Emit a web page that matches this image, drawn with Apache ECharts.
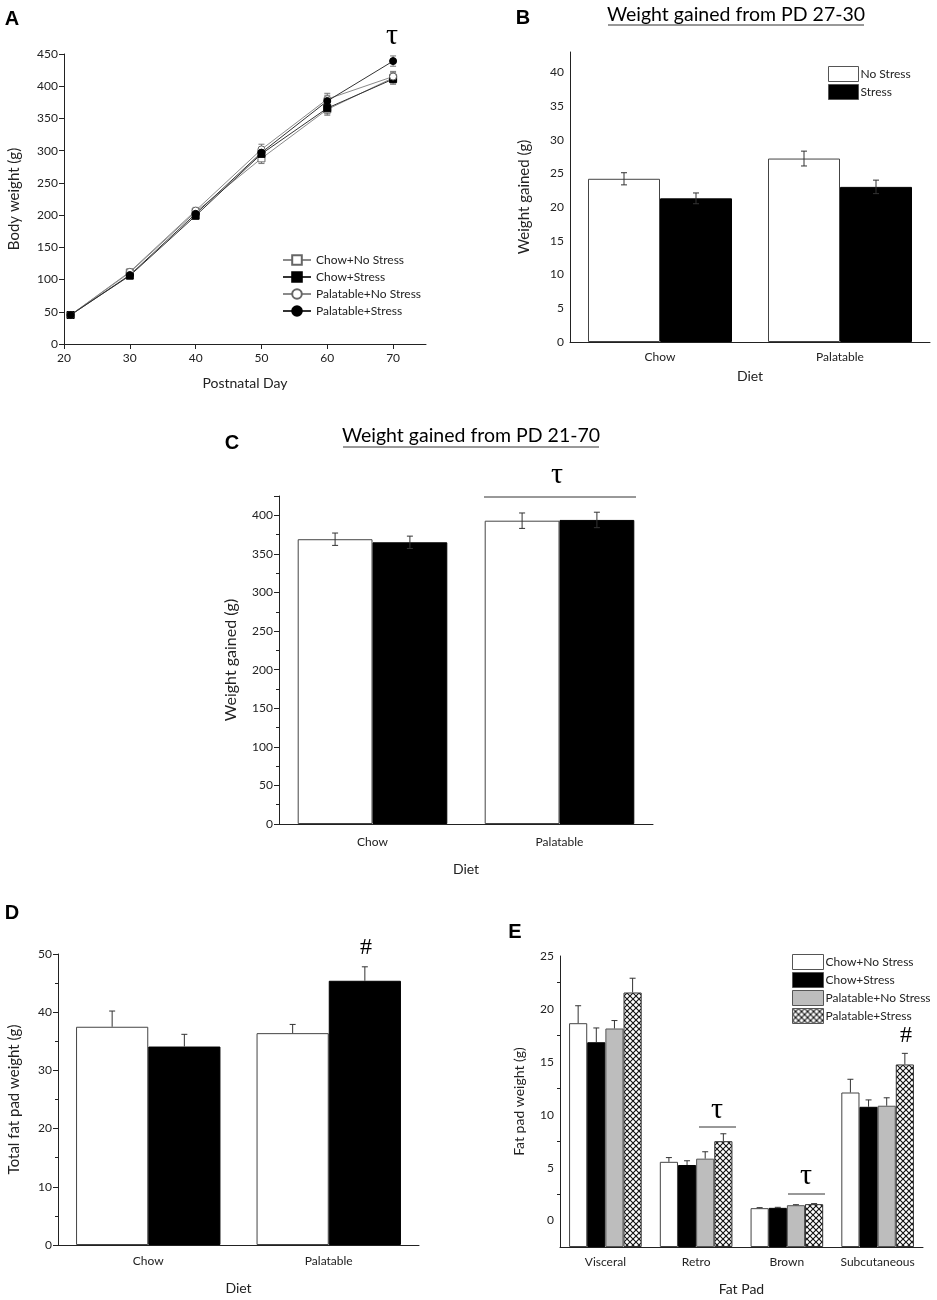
<!DOCTYPE html>
<html>
<head>
<meta charset="utf-8">
<script src="https://cdn.jsdelivr.net/npm/echarts@6/dist/echarts.min.js"></script>
<style>
  html, body { margin: 0; padding: 0; background: #fff; }
  #fig { width: 937px; height: 1300px; }
</style>
</head>
<body>
<div id="fig"></div>
<script>
// panel A - body weight over time
const days = [21, 30, 40, 50, 60, 70];
const chowNoStressBW = [45, 111, 205, 288, 364, 413];
const chowStressBW = [45, 106, 199, 295, 366, 411];
const palNoStressBW = [45, 112, 207, 302, 380, 415];
const palStressBW = [45, 107, 202, 297, 377, 439];
const bwErr = [3, 4, 5, 8, 9, 8];
const bwTicksX = [20, 30, 40, 50, 60, 70];

// panels B-D - two diets
const diets = ['Chow', 'Palatable'];
const gainB_noStress = [24.2, 27.2];
const gainB_noStressErr = [0.9, 1.1];
const gainB_stress = [21.3, 23.0];
const gainB_stressErr = [0.8, 1.0];
const ticksB = [0, 5, 10, 15, 20, 25, 30, 35, 40];

const gainC_noStress = [369, 393];
const gainC_noStressErr = [8, 10];
const gainC_stress = [365, 394];
const gainC_stressErr = [8, 10];
const ticksC = [0, 50, 100, 150, 200, 250, 300, 350, 400];

const fatD_noStress = [37.5, 36.4];
const fatD_noStressErr = [2.7, 1.5];
const fatD_stress = [34.1, 45.4];
const fatD_stressErr = [2.1, 2.4];

// panel E - fat pads
const fatPads = ['Visceral', 'Retro', 'Brown', 'Subcutaneous'];
const padChowNoStress = [18.65, 5.55, 1.17, 12.1];
const padChowNoStressErr = [1.65, 0.4, 0.05, 1.25];
const padChowStress = [16.85, 5.25, 1.2, 10.75];
const padChowStressErr = [1.35, 0.4, 0.05, 0.65];
const padPalNoStress = [18.15, 5.85, 1.45, 10.85];
const padPalNoStressErr = [0.75, 0.65, 0.05, 0.75];
const padPalStress = [21.55, 7.5, 1.55, 14.75];
const padPalStressErr = [1.35, 0.7, 0.05, 1.05];
const ticksE = [0, 5, 10, 15, 20, 25];
const minorTicksE = [2.5, 7.5, 12.5, 17.5, 22.5];

const FONT = 'Lato';
const INK = '#222';
const GAP = 0.2;

// cross hatch fill for palatable+stress
const hatch = document.createElement('canvas');
hatch.width = hatch.height = 6;
const hc = hatch.getContext('2d');
hc.fillStyle = '#fff';
hc.fillRect(0, 0, 6, 6);
hc.strokeStyle = '#111';
hc.lineWidth = 1.1;
hc.beginPath();
hc.moveTo(-1, -1); hc.lineTo(7, 7);
hc.moveTo(7, -1); hc.lineTo(-1, 7);
hc.stroke();
const hatchFill = { image: hatch, repeat: 'repeat' };

const axisLine = { show: true, onZero: false, lineStyle: { color: INK, width: 1 } };
const tickStyle = { lineStyle: { color: INK, width: 1 } };

function catAxis(grid, cats, nameGap, labelMargin, name) {
  return {
    type: 'category', gridIndex: grid, data: cats,
    name: name, nameLocation: 'middle', nameGap: nameGap,
    nameTextStyle: { fontSize: 14, color: INK },
    axisLine: axisLine,
    axisTick: Object.assign({ alignWithLabel: true, length: 5 }, tickStyle),
    axisLabel: { fontSize: 12, color: INK, margin: labelMargin, interval: 0 }
  };
}

function valAxis(grid, opts) {
  return Object.assign({
    type: 'value', gridIndex: grid, position: 'left',
    nameLocation: 'middle', nameRotate: 90,
    nameTextStyle: { fontSize: 15, color: INK },
    axisLine: axisLine,
    axisTick: Object.assign({ show: true, length: 5 }, tickStyle),
    axisLabel: { fontSize: 12, color: INK, margin: 6 },
    splitLine: { show: false }
  }, opts);
}

// error whiskers for grouped bars
function barErrors(idx, vals, errs, slot, nSlots, both, cap) {
  return {
    type: 'custom', xAxisIndex: idx, yAxisIndex: idx, z: 5, silent: true,
    data: vals.map((v, i) => [i, v, errs[i]]),
    renderItem(params, api) {
      const i = api.value(0), v = api.value(1), e = api.value(2);
      const band = api.size([1, 0])[0];
      const groupW = band * (1 - GAP);
      const x = api.coord([i, v])[0] - groupW / 2 + (slot + 0.5) * groupW / nSlots;
      const yTop = api.coord([i, v + e])[1];
      const yBot = api.coord([i, both ? v - e : v])[1];
      const st = { stroke: '#333', lineWidth: 1 };
      const kids = [
        { type: 'line', shape: { x1: x, y1: yTop, x2: x, y2: yBot }, style: st },
        { type: 'line', shape: { x1: x - cap, y1: yTop, x2: x + cap, y2: yTop }, style: st }
      ];
      if (both) kids.push({ type: 'line', shape: { x1: x - cap, y1: yBot, x2: x + cap, y2: yBot }, style: st });
      return { type: 'group', children: kids };
    }
  };
}

// error whiskers for the line panel
function lineErrors(vals) {
  return {
    type: 'custom', xAxisIndex: 0, yAxisIndex: 0, z: 1, silent: true,
    data: days.map((d, i) => [d, vals[i], bwErr[i]]),
    renderItem(params, api) {
      const d = api.value(0), v = api.value(1), e = api.value(2);
      const top = api.coord([d, v + e]);
      const bot = api.coord([d, v - e]);
      const st = { stroke: '#777', lineWidth: 1 };
      return { type: 'group', children: [
        { type: 'line', shape: { x1: top[0], y1: top[1], x2: bot[0], y2: bot[1] }, style: st },
        { type: 'line', shape: { x1: top[0] - 3, y1: top[1], x2: top[0] + 3, y2: top[1] }, style: st },
        { type: 'line', shape: { x1: bot[0] - 3, y1: bot[1], x2: bot[0] + 3, y2: bot[1] }, style: st }
      ] };
    }
  };
}

function bwLine(name, vals, symbol, filled, lineColor) {
  return {
    type: 'line', name: name, xAxisIndex: 0, yAxisIndex: 0, z: 3,
    data: days.map((d, i) => [d, vals[i]]),
    symbol: symbol, symbolSize: 7,
    lineStyle: { color: lineColor, width: 1 },
    itemStyle: filled ? { color: '#000', borderColor: '#000', borderWidth: 1 }
                      : { color: '#fff', borderColor: '#666', borderWidth: 1 }
  };
}

const whiteBar = { color: '#fff', borderColor: '#444', borderWidth: 1 };
const blackBar = { color: '#000', borderColor: '#000', borderWidth: 1 };
const grayBar = { color: '#bdbdbd', borderColor: '#555', borderWidth: 1 };
const hatchBar = { color: hatchFill, borderColor: '#333', borderWidth: 1 };

function bars(idx, name, vals, style) {
  return {
    type: 'bar', name: name, xAxisIndex: idx, yAxisIndex: idx, z: 2,
    data: vals, itemStyle: style, barGap: 0, barCategoryGap: (GAP * 100) + '%'
  };
}

function txt(x, y, s, font, align) {
  return { type: 'text', x: x, y: y, style: { text: s, font: font, fill: '#000', textAlign: align || 'center', textVerticalAlign: 'middle' } };
}
function hline(x1, x2, y) {
  return { type: 'line', shape: { x1: x1, y1: y, x2: x2, y2: y }, style: { stroke: '#333', lineWidth: 1 } };
}

const chart = echarts.init(document.getElementById('fig'));
const option = {
  animation: false,
  backgroundColor: '#fff',
  textStyle: { fontFamily: FONT, color: INK },
  grid: [
    { left: 64, top: 54, width: 362, height: 290 },
    { left: 570, top: 52, width: 360, height: 290 },
    { left: 279, top: 496, width: 374, height: 328 },
    { left: 58, top: 954, width: 361, height: 291 },
    { left: 560, top: 956, width: 363, height: 291 }
  ],
  xAxis: [
    {
      type: 'value', gridIndex: 0, min: 20, max: 75,
      name: 'Postnatal Day', nameLocation: 'middle', nameGap: 32,
      nameTextStyle: { fontSize: 14, color: INK },
      axisLine: axisLine,
      axisTick: Object.assign({ length: 5, customValues: bwTicksX }, tickStyle),
      axisLabel: { fontSize: 12, color: INK, margin: 8, customValues: bwTicksX },
      splitLine: { show: false }
    },
    catAxis(1, diets, 27, 9, 'Diet'),
    catAxis(2, diets, 38, 12, 'Diet'),
    catAxis(3, diets, 36, 10, 'Diet'),
    catAxis(4, fatPads, 35, 9, 'Fat Pad')
  ],
  yAxis: [
    valAxis(0, { min: 0, max: 450, interval: 50, name: 'Body weight (g)', nameGap: 42 }),
    valAxis(1, { min: 0, max: 43, name: 'Weight gained (g)', nameGap: 38,
      axisTick: Object.assign({ length: 5, customValues: ticksB }, tickStyle),
      axisLabel: { fontSize: 12, color: INK, margin: 6, customValues: ticksB } }),
    valAxis(2, { min: 0, max: 425, interval: 50, name: 'Weight gained (g)', nameGap: 40,
      nameTextStyle: { fontSize: 16, color: INK },
      minorTick: { show: true, splitNumber: 2, length: 3, lineStyle: { color: INK } },
      axisLabel: { fontSize: 12, color: INK, margin: 6, customValues: ticksC } }),
    valAxis(3, { min: 0, max: 50, interval: 10, name: 'Total fat pad weight (g)', nameGap: 36,
      minorTick: { show: true, splitNumber: 2, length: 3, lineStyle: { color: INK } } }),
    valAxis(4, { min: -2.5, max: 25, startValue: -2.5, name: 'Fat pad weight (g)', nameGap: 34,
      nameTextStyle: { fontSize: 14, color: INK },
      axisTick: Object.assign({ length: 5, customValues: ticksE }, tickStyle),
      axisLabel: { fontSize: 12, color: INK, margin: 6, customValues: ticksE } }),
    {
      type: 'value', gridIndex: 4, position: 'left', offset: 0, min: -2.5, max: 25,
      axisLine: { show: false }, axisLabel: { show: false }, splitLine: { show: false },
      axisTick: Object.assign({ show: true, length: 3, customValues: minorTicksE }, tickStyle)
    }
  ],
  legend: [
    {
      data: ['Chow+No Stress', 'Chow+Stress', 'Palatable+No Stress', 'Palatable+Stress'],
      orient: 'vertical', left: 277, top: 249, itemWidth: 28, itemHeight: 12, itemGap: 5,
      textStyle: { fontSize: 12, color: INK }, selectedMode: false
    },
    {
      data: ['No Stress', 'Stress'], icon: 'rect',
      orient: 'vertical', left: 823, top: 61, itemWidth: 30, itemHeight: 15, itemGap: 2,
      itemStyle: { borderColor: '#555', borderWidth: 1 },
      textStyle: { fontSize: 12, color: INK, padding: [0, 0, 0, -3] }, selectedMode: false
    },
    {
      data: ['E|Chow+No Stress', 'E|Chow+Stress', 'E|Palatable+No Stress', 'E|Palatable+Stress'], icon: 'rect',
      orient: 'vertical', left: 787, top: 949, itemWidth: 31, itemHeight: 15, itemGap: 2,
      itemStyle: { borderColor: '#555', borderWidth: 1 },
      formatter: n => n.split('|')[1],
      textStyle: { fontSize: 12, color: INK, padding: [0, 0, 0, -3] }, selectedMode: false
    }
  ],
  series: [
    lineErrors(chowNoStressBW), lineErrors(chowStressBW), lineErrors(palNoStressBW), lineErrors(palStressBW),
    bwLine('Chow+No Stress', chowNoStressBW, 'rect', false, '#8a8a8a'),
    bwLine('Chow+Stress', chowStressBW, 'rect', true, '#333'),
    bwLine('Palatable+No Stress', palNoStressBW, 'circle', false, '#8a8a8a'),
    bwLine('Palatable+Stress', palStressBW, 'circle', true, '#333'),

    bars(1, 'No Stress', gainB_noStress, whiteBar),
    bars(1, 'Stress', gainB_stress, blackBar),
    barErrors(1, gainB_noStress, gainB_noStressErr, 0, 2, true, 3),
    barErrors(1, gainB_stress, gainB_stressErr, 1, 2, true, 3),

    bars(2, 'C|No Stress', gainC_noStress, whiteBar),
    bars(2, 'C|Stress', gainC_stress, blackBar),
    barErrors(2, gainC_noStress, gainC_noStressErr, 0, 2, true, 3),
    barErrors(2, gainC_stress, gainC_stressErr, 1, 2, true, 3),

    bars(3, 'D|No Stress', fatD_noStress, whiteBar),
    bars(3, 'D|Stress', fatD_stress, blackBar),
    barErrors(3, fatD_noStress, fatD_noStressErr, 0, 2, false, 3),
    barErrors(3, fatD_stress, fatD_stressErr, 1, 2, false, 3),

    bars(4, 'E|Chow+No Stress', padChowNoStress, whiteBar),
    bars(4, 'E|Chow+Stress', padChowStress, blackBar),
    bars(4, 'E|Palatable+No Stress', padPalNoStress, grayBar),
    bars(4, 'E|Palatable+Stress', padPalStress, hatchBar),
    barErrors(4, padChowNoStress, padChowNoStressErr, 0, 4, false, 3),
    barErrors(4, padChowStress, padChowStressErr, 1, 4, false, 3),
    barErrors(4, padPalNoStress, padPalNoStressErr, 2, 4, false, 3),
    barErrors(4, padPalStress, padPalStressErr, 3, 4, false, 3)
  ],
  graphic: [
    txt(12, 19, 'A', 'bold 20px Arial'),
    txt(523, 18, 'B', 'bold 20px Arial'),
    txt(232, 443, 'C', 'bold 20px Arial'),
    txt(12, 913, 'D', 'bold 20px Arial'),
    txt(515, 932, 'E', 'bold 20px Arial'),

    txt(736, 15, 'Weight gained from PD 27-30', '19.5px Lato'),
    hline(608, 864, 25),
    txt(471, 436, 'Weight gained from PD 21-70', '19.5px Lato'),
    hline(343, 599, 447),

    txt(392, 36, 'τ', '30px "Liberation Serif"'),
    txt(557, 475, 'τ', '30px "Liberation Serif"'),
    hline(484, 636, 497),
    txt(366, 948, '#', '24px "Liberation Serif"'),
    txt(717, 1110, 'τ', '30px "Liberation Serif"'),
    hline(699, 736, 1127),
    txt(806, 1176, 'τ', '30px "Liberation Serif"'),
    hline(788, 825, 1194),
    txt(906, 1036, '#', '24px "Liberation Serif"')
  ]
};
chart.setOption(option);
</script>
</body>
</html>
